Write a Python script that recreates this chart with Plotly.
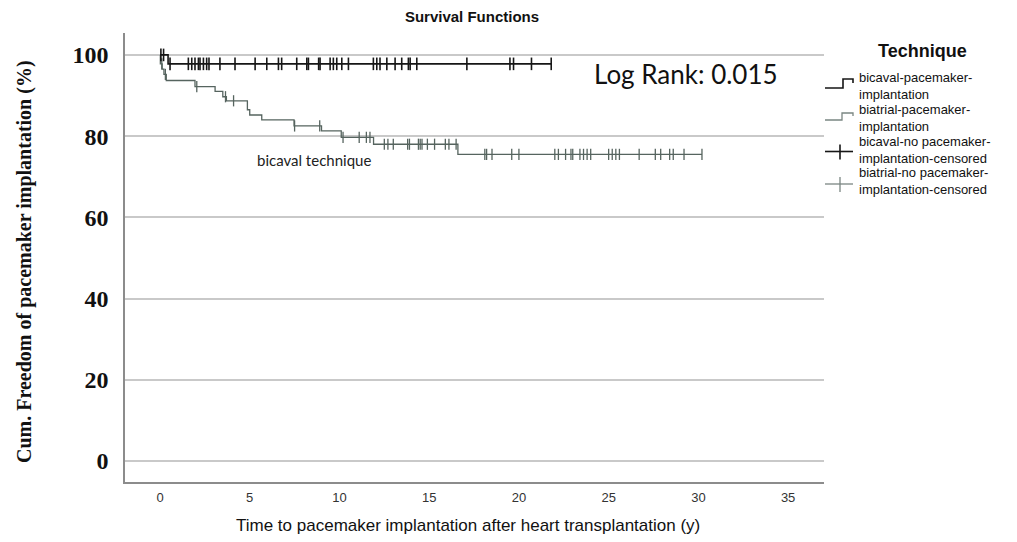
import plotly.graph_objects as go
import numpy as np

# ---------------- data ----------------
bicaval_times = [0, 0.45, 21.8]
bicaval_surv = [100, 97.8, 97.8]
bicaval_censor = [0.05, 0.2, 0.56, 1.58, 1.77, 1.95, 2.14, 2.23, 2.42, 2.6, 2.73, 3.34, 4.18,
                  5.3, 5.95, 6.6, 6.78, 7.62, 8.18, 8.27, 8.84, 8.92, 9.48, 9.66, 9.85, 10.13,
                  10.5, 11.89, 12.08, 12.26, 12.64, 13.1, 13.47, 13.84, 13.94, 14.31, 17.1,
                  19.5, 19.7, 20.7, 21.8]

biatrial_times = [0, 0.02, 0.12, 0.22, 0.35, 1.95, 3.07, 3.5, 3.7, 4.87, 5.0, 5.67, 7.47,
                  9.0, 10.1, 11.9, 16.6, 30.2]
biatrial_surv = [100, 97.8, 96.5, 95.2, 93.7, 92.2, 91.0, 89.7, 88.7, 86.5, 85.2, 84.0, 82.5,
                 81.3, 79.7, 78.0, 75.5, 75.5]
biatrial_censor = [0.1, 0.3, 2.05, 3.65, 4.1, 7.5, 8.9, 10.2, 11.1, 11.5, 11.7, 12.5, 12.7,
                   13.0, 13.8, 13.9, 14.4, 14.5, 14.6, 14.9, 15.3, 15.9, 16.1, 16.5, 18.1,
                   18.2, 18.5, 19.6, 20.0, 22.0, 22.2, 22.6, 22.9, 23.0, 23.4, 23.6, 23.8,
                   24.0, 25.0, 25.2, 25.4, 25.6, 26.7, 27.6, 27.9, 28.4, 28.6, 29.2, 30.2]

x_ticks = [0, 5, 10, 15, 20, 25, 30, 35]
y_ticks = [0, 20, 40, 60, 80, 100]

legend_labels = [["bicaval-pacemaker-", "implantation"],
                 ["biatrial-pacemaker-", "implantation"],
                 ["bicaval-no pacemaker-", "implantation-censored"],
                 ["biatrial-no pacemaker-", "implantation-censored"]]

C_BICAVAL = "#161616"
C_BIATRIAL = "#56645f"
C_BIATRIAL_LEG = "#7a8682"


def surv_at(times, surv, t):
    idx = np.searchsorted(np.array(times), t, side="right") - 1
    return surv[max(idx, 0)]


fig = go.Figure()
fig.add_trace(go.Scatter(x=biatrial_times, y=biatrial_surv, mode="lines", line_shape="hv",
                         line=dict(color=C_BIATRIAL, width=1.3), showlegend=False))
fig.add_trace(go.Scatter(x=bicaval_times, y=bicaval_surv, mode="lines", line_shape="hv",
                         line=dict(color=C_BICAVAL, width=1.6), showlegend=False))
fig.add_trace(go.Scatter(x=biatrial_censor,
                         y=[surv_at(biatrial_times, biatrial_surv, t) for t in biatrial_censor],
                         mode="markers",
                         marker=dict(symbol="line-ns", size=8, line=dict(width=1.3, color=C_BIATRIAL)),
                         showlegend=False))
fig.add_trace(go.Scatter(x=bicaval_censor,
                         y=[surv_at(bicaval_times, bicaval_surv, t) for t in bicaval_censor],
                         mode="markers",
                         marker=dict(symbol="line-ns", size=9, line=dict(width=1.6, color=C_BICAVAL)),
                         showlegend=False))

# ---------------- layout ----------------
# page body has an 8px margin: reference pixel coords are shifted by OFF
OFF = 8
W, H = 1017, 542
L, R, T, B = 125, 824, 33, 482


def px(xp):
    return (xp - L) / (R - L)


def py(yp):
    return (B - yp) / (B - T)


fig.update_layout(
    width=W - OFF, height=H - OFF,
    margin=dict(l=L - OFF, r=W - R, t=T - OFF, b=H - B),
    paper_bgcolor="white", plot_bgcolor="white",
    title=dict(text="<b>Survival Functions</b>", x=(472 - OFF) / (W - OFF), xref="container",
               xanchor="center", y=1 - (17 - OFF) / (H - OFF), yref="container",
               yanchor="middle",
               font=dict(family="Liberation Sans, Arial", size=15, color="#111")),
)
fig.update_xaxes(range=[-1.95, 37.0], tickvals=x_ticks, showgrid=False, zeroline=False,
                 showline=True, linecolor="#8c8c8c", linewidth=1.5, ticks="",
                 ticklabelstandoff=3,
                 tickfont=dict(family="Liberation Sans, Arial", size=13, color="#333"))
fig.update_yaxes(range=[-5.2, 105.4], tickvals=y_ticks, showgrid=True, gridcolor="#c9c9c9",
                 gridwidth=1.5, zeroline=False, showline=True, linecolor="#8c8c8c",
                 linewidth=1.5, ticks="", ticklabelstandoff=10,
                 tickfont=dict(family="Liberation Serif, Times New Roman", size=24, color="#111",
                               weight="bold"))

ann = []
ann.append(dict(text="<b>Cum. Freedom of pacemaker implantation (%)</b>", xref="paper", yref="paper",
                x=px(24), y=py(262), textangle=-90, showarrow=False, xanchor="center",
                yanchor="middle",
                font=dict(family="Liberation Serif, Times New Roman", size=20, color="#111")))
ann.append(dict(text="Time to pacemaker implantation after heart transplantation (y)",
                xref="paper", yref="paper", x=px(468), y=py(525), showarrow=False,
                xanchor="center", yanchor="middle",
                font=dict(family="Liberation Sans, Arial", size=17, color="#111")))
ann.append(dict(text="Log Rank: 0.015", xref="x", yref="y", x=29.3, y=95.3, showarrow=False,
                xanchor="center", yanchor="middle",
                font=dict(family="Lato, Open Sans", size=26, color="#111")))
ann.append(dict(text="bicaval technique", xref="x", yref="y", x=8.6, y=74.1, showarrow=False,
                xanchor="center", yanchor="middle",
                font=dict(family="Lato, Open Sans", size=15, color="#222")))

# custom legend
ann.append(dict(text="<b>Technique</b>", xref="paper", yref="paper", x=px(922), y=py(51),
                showarrow=False, xanchor="center", yanchor="middle",
                font=dict(family="Liberation Sans, Arial", size=18, color="#111")))
entry_y = [86, 118, 149.5, 181]
for (l1, l2), yy in zip(legend_labels, entry_y):
    ann.append(dict(text=l1 + "<br>" + l2, xref="paper", yref="paper", x=px(857), y=py(yy),
                    showarrow=False, xanchor="left", yanchor="middle", align="left",
                    font=dict(family="Liberation Sans, Arial", size=13, color="#111")))
fig.update_layout(annotations=ann)


def seg_path(points):
    return "M " + " L ".join(f"{px(a)} {py(b)}" for a, b in points)


shapes = []
glyphs = [
    ([(825, 88), (843, 88), (843, 79), (853, 79), (853, 83)], C_BICAVAL, 1.6),
    ([(825, 120), (842, 120), (842, 113), (853, 113), (853, 116)], C_BIATRIAL_LEG, 1.3),
]
for pts, col, w in glyphs:
    shapes.append(dict(type="path", xref="paper", yref="paper", path=seg_path(pts),
                       line=dict(color=col, width=w)))
for yc, col, w in ((151.5, C_BICAVAL, 1.6), (184, C_BIATRIAL_LEG, 1.3)):
    shapes.append(dict(type="line", xref="paper", yref="paper", x0=px(825), x1=px(853),
                       y0=py(yc), y1=py(yc), line=dict(color=col, width=w)))
    shapes.append(dict(type="line", xref="paper", yref="paper", x0=px(840), x1=px(840),
                       y0=py(yc - 7), y1=py(yc + 8), line=dict(color=col, width=w)))
fig.update_layout(shapes=shapes)

fig.write_html("out.html")
